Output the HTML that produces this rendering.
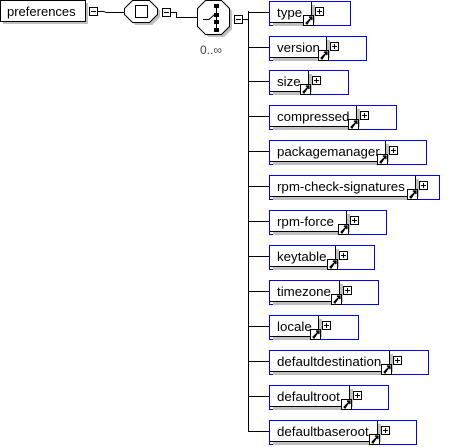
<!DOCTYPE html>
<html><head><style>
html,body{margin:0;padding:0;background:#fff;}
svg{display:block;font-family:"Liberation Sans","DejaVu Sans",sans-serif;}
</style></head><body>
<svg width="457" height="447" viewBox="0 0 457 447" xmlns="http://www.w3.org/2000/svg" shape-rendering="crispEdges">
<rect x="3" y="3" width="85" height="21" fill="#c0c0c0"/>
<rect x="0.5" y="0.5" width="85" height="21" fill="#fff" stroke="#000"/>
<text x="7" y="16" font-size="13">preferences</text>
<rect x="89.5" y="7.5" width="8" height="8" fill="#fff" stroke="#000"/>
<line x1="91" y1="11.5" x2="96" y2="11.5" stroke="#000"/>
<polyline points="98,11.5 104,11.5 106,12.5 125,12.5" fill="none" stroke="#000"/>
<polygon points="135,3 152,3 160,11 160,17 152,25 135,25 127,17 127,11" fill="#c0c0c0"/>
<polygon points="132.5,0.5 149.5,0.5 157.5,8.5 157.5,14.5 149.5,22.5 132.5,22.5 124.5,14.5 124.5,8.5" fill="#fff" stroke="#000" shape-rendering="auto"/>
<rect x="135.5" y="5.5" width="12" height="12" fill="#fff" stroke="#000"/>
<rect x="162.5" y="8.5" width="8" height="8" fill="#fff" stroke="#000"/>
<line x1="164" y1="12.5" x2="169" y2="12.5" stroke="#000"/>
<polyline points="171,12.5 176.5,12.5 176.5,17.5 197,17.5" fill="none" stroke="#000"/>
<polygon points="208,3 224,3 232,11 232,29 224,37 208,37 200,29 200,11" fill="#c0c0c0"/>
<polygon points="205.5,0.5 221.5,0.5 229.5,8.5 229.5,26.5 221.5,34.5 205.5,34.5 197.5,26.5 197.5,8.5" fill="#fff" stroke="#000" shape-rendering="auto"/>
<line x1="216.5" y1="6" x2="216.5" y2="31" stroke="#000"/>
<rect x="214" y="4" width="5" height="4" fill="#000"/>
<rect x="214" y="13" width="5" height="4" fill="#000"/>
<rect x="214" y="20" width="5" height="4" fill="#000"/>
<rect x="214" y="28" width="5" height="4" fill="#000"/>
<polyline points="203,19.5 209,19.5 215,14" fill="none" stroke="#000" shape-rendering="auto"/>
<text x="200" y="54" font-size="12" fill="#444">0..∞</text>
<rect x="234.5" y="15.5" width="8" height="8" fill="#fff" stroke="#000"/>
<line x1="236" y1="19.5" x2="241" y2="19.5" stroke="#000"/>
<line x1="243" y1="19.5" x2="248" y2="19.5" stroke="#000"/>
<line x1="248.5" y1="11" x2="248.5" y2="432" stroke="#000"/>
<g id="items" font-size="13.3"></g>
</svg>
<script>
var items=[["type",1,311,350],["version",36,326,366],["size",70,308,348],["compressed",105,356,396],["packagemanager",140,385,426],["rpm-check-signatures",175,415,439],["rpm-force",210,346,386],["keytable",245,335,374],["timezone",280,339,378],["locale",315,318,358],["defaultdestination",350,389,428],["defaultroot",385,349,388],["defaultbaseroot",420,377,416]];
var s="";
items.forEach(function(it){var n=it[0],T=it[1],R=it[2],B=it[3];
s+='<line x1="248" y1="'+(T+11.5)+'" x2="269" y2="'+(T+11.5)+'" stroke="#000"/>';
s+='<rect x="269" y="'+T+'" width="'+(B-269+1)+'" height="25" fill="#0000ff"/>';
s+='<rect x="270" y="'+(T+1)+'" width="'+(B-270)+'" height="23" fill="#fff"/>';
s+='<rect x="273" y="'+(T+22)+'" width="'+(R-273)+'" height="3" fill="#c0c0c0"/>';
s+='<rect x="'+(R+1)+'" y="'+(T+4)+'" width="3" height="18" fill="#c0c0c0"/>';
s+='<rect x="'+R+'" y="'+(T+1)+'" width="1" height="21" fill="#000"/>';
s+='<rect x="270" y="'+(T+21)+'" width="'+(R-270)+'" height="1" fill="#000"/>';
s+='<text x="277" y="'+(T+16)+'">'+n+'</text>';
s+='<rect x="'+(R-7.5)+'" y="'+(T+14.5)+'" width="10" height="10" fill="#fff" stroke="#000"/>';
s+='<polygon points="'+(R-5)+','+(T+22)+' '+(R+0)+','+(T+17)+' '+(R-2)+','+(T+16)+' '+(R+1)+','+(T+16)+' '+(R+1)+','+(T+19)+' '+(R+0)+','+(T+17)+' '+(R-4)+','+(T+23)+'" fill="#000" stroke="#000" stroke-width="1.2" shape-rendering="auto"/>';
s+='<rect x="'+(R+4.5)+'" y="'+(T+6.5)+'" width="8" height="8" fill="#fff" stroke="#000"/>';
s+='<line x1="'+(R+6)+'" y1="'+(T+10.5)+'" x2="'+(R+11)+'" y2="'+(T+10.5)+'" stroke="#000"/>';
s+='<line x1="'+(R+8.5)+'" y1="'+(T+8)+'" x2="'+(R+8.5)+'" y2="'+(T+13)+'" stroke="#000"/>';
});
document.getElementById("items").innerHTML=s;
</script>
</body></html>
